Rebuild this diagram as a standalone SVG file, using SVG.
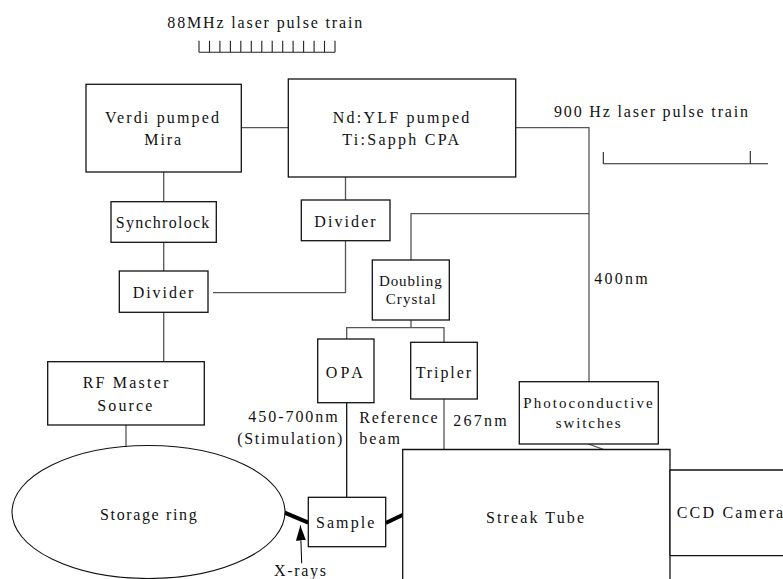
<svg xmlns="http://www.w3.org/2000/svg" width="783" height="579" viewBox="0 0 783 579">
<style>
text{font-family:"Liberation Serif","Times New Roman",serif;font-size:16px;fill:#111}
.box{fill:#fff;stroke:#111;stroke-width:1.3}
.ln{fill:none;stroke:#555;stroke-width:1.3}
.thick{fill:none;stroke:#000;stroke-width:4}
.s15{font-size:15px}
</style>
<defs>
<marker id="ah" markerWidth="15" markerHeight="10" refX="15" refY="5" orient="auto" markerUnits="userSpaceOnUse" viewBox="0 0 15 10">
<path d="M15,5 L0,0 L0,10 Z" fill="#000"/>
</marker>
</defs>
<g id="connectors">
<path class="ln" d="M241,127.7 H288"/>
<path class="ln" d="M515.7,127.7 H589 V381.7"/>
<path class="ln" d="M589,213.7 H411 V260"/>
<path class="ln" d="M163.7,172 V201.7"/>
<path class="ln" d="M163.7,242.3 V271"/>
<path class="ln" d="M163.7,312.3 V361.7"/>
<path class="ln" d="M345.5,177 V200"/>
<path class="ln" d="M345.5,240.7 V292.7 H213"/>
<path class="ln" d="M126,425 V452"/>
<path class="ln" d="M411,320 V327.7"/>
<path class="ln" d="M346.7,339 V327.7 H444 V342.3"/>
<path class="ln" d="M346.7,402.7 V497.3" style="stroke:#111"/>
<path class="ln" d="M444,399 V457.3"/>
<path class="ln" d="M588.3,444 L603.3,449.3"/>
<path class="thick" d="M284,512.3 L308.3,522.7"/>
<path class="thick" d="M385.7,523 L403,514.7"/>
<path d="M301.7,563.3 L300.4,525.5" fill="none" stroke="#000" stroke-width="1" marker-end="url(#ah)"/>
</g>
<g id="pulse88">
<text x="167.3" y="28.3" textLength="195" lengthAdjust="spacing">88MHz laser pulse train</text>
<path class="ln" style="stroke:#222;stroke-width:1.1" d="M199,52.3 H335 M199,40.7 V52.3 M209.5,40.7 V52.3 M219.9,40.7 V52.3 M230.4,40.7 V52.3 M240.8,40.7 V52.3 M251.3,40.7 V52.3 M261.8,40.7 V52.3 M272.2,40.7 V52.3 M282.7,40.7 V52.3 M293.1,40.7 V52.3 M303.6,40.7 V52.3 M314.1,40.7 V52.3 M324.5,40.7 V52.3 M335,40.7 V52.3"/>
</g>
<g id="pulse900">
<text x="554" y="117.3" textLength="194" lengthAdjust="spacing">900 Hz laser pulse train</text>
<path class="ln" style="stroke:#222;stroke-width:1.1" d="M603.3,163.7 H768 M603.3,152 V163.7 M750.3,151 V163.7"/>
</g>
<g id="verdi">
<rect class="box" x="86" y="84.3" width="155.3" height="87.7"/>
<text x="105" y="123.3" textLength="114" lengthAdjust="spacing">Verdi pumped</text>
<text x="144.3" y="145.3" textLength="36.7" lengthAdjust="spacing">Mira</text>
</g>
<g id="ndylf">
<rect class="box" x="288.3" y="79" width="227.4" height="98"/>
<text x="332.7" y="123.3" textLength="136.6" lengthAdjust="spacing">Nd:YLF pumped</text>
<text x="342.3" y="145.3" textLength="116.7" lengthAdjust="spacing">Ti:Sapph CPA</text>
</g>
<g id="synchrolock">
<rect class="box" x="111" y="201.7" width="105.3" height="40.6"/>
<text x="115.7" y="227.7" textLength="93.6" lengthAdjust="spacing">Synchrolock</text>
</g>
<g id="divider-left">
<rect class="box" x="119.3" y="271" width="88.7" height="41.3"/>
<text x="132.7" y="297.7" textLength="60.6" lengthAdjust="spacing">Divider</text>
</g>
<g id="divider-right">
<rect class="box" x="301.3" y="200" width="88.7" height="40.7"/>
<text x="314.3" y="226.7" textLength="61.4" lengthAdjust="spacing">Divider</text>
</g>
<g id="doubling">
<rect class="box" x="372.3" y="260" width="77" height="60"/>
<text class="s15" x="379" y="285.7" textLength="62.7" lengthAdjust="spacing">Doubling</text>
<text class="s15" x="385.7" y="304.3" textLength="50" lengthAdjust="spacing">Crystal</text>
</g>
<g id="label-400nm">
<text x="594.3" y="284" textLength="53.4" lengthAdjust="spacing">400nm</text>
</g>
<g id="opa">
<rect class="box" x="317.7" y="339" width="56.3" height="63.7"/>
<text x="325.7" y="378.3" textLength="37" lengthAdjust="spacing">OPA</text>
</g>
<g id="tripler">
<rect class="box" x="410.7" y="342.3" width="66.6" height="56.7"/>
<text x="415.7" y="378.3" textLength="55.3" lengthAdjust="spacing">Tripler</text>
</g>
<g id="rfmaster">
<rect class="box" x="47.7" y="361.7" width="156.6" height="63.3"/>
<text x="82.7" y="388.3" textLength="85.6" lengthAdjust="spacing">RF Master</text>
<text x="97.3" y="410.7" textLength="55" lengthAdjust="spacing">Source</text>
</g>
<g id="labels">
<text x="248.3" y="421.7" textLength="89.4" lengthAdjust="spacing">450-700nm</text>
<text x="237.3" y="443.7" textLength="105" lengthAdjust="spacing">(Stimulation)</text>
<text x="359.3" y="423.3" textLength="78.4" lengthAdjust="spacing">Reference</text>
<text x="359.3" y="444.3" textLength="40.7" lengthAdjust="spacing">beam</text>
<text x="453.3" y="426" textLength="53.4" lengthAdjust="spacing">267nm</text>
<text x="274" y="576" textLength="52" lengthAdjust="spacing">X-rays</text>
</g>
<g id="photoconductive">
<rect class="box" x="519.3" y="381.7" width="139" height="62.3"/>
<text class="s15" x="523.3" y="407.7" textLength="129.4" lengthAdjust="spacing">Photoconductive</text>
<text class="s15" x="555.7" y="428.3" textLength="65" lengthAdjust="spacing">switches</text>
</g>
<g id="storagering">
<ellipse class="box" style="stroke-width:1.1" cx="148.5" cy="512" rx="136.5" ry="66.5"/>
<text x="100" y="520" textLength="96.7" lengthAdjust="spacing">Storage ring</text>
</g>
<g id="sample">
<rect class="box" x="308.3" y="497.3" width="77.4" height="49.4"/>
<text x="316" y="528.3" textLength="58.3" lengthAdjust="spacing">Sample</text>
</g>
<g id="streaktube">
<path class="box" d="M402.7,600 V449.5 H670 V600"/>
<text x="486" y="522.7" textLength="98" lengthAdjust="spacing">Streak Tube</text>
</g>
<g id="ccdcamera">
<path class="box" d="M800,470 H670 V555.7 H800"/>
<text x="676.7" y="518.3" style="letter-spacing:2.2px">CCD Camera</text>
</g>
</svg>
